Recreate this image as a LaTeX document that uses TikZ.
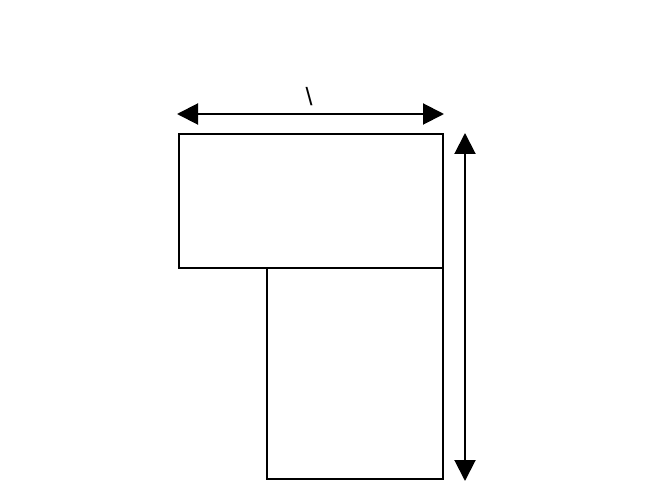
\documentclass[tikz,border=0pt]{standalone}
\usepackage{fontspec}
\setmainfont{Liberation Sans}
\usetikzlibrary{arrows.meta}
\begin{document}
\begin{tikzpicture}[x=1pt,y=-1pt,
  box/.style={draw=black,line width=2pt},
  dimarrow/.style={line width=2pt,{Triangle[length=21pt,width=21pt]}-{Triangle[length=21pt,width=21pt]}}]
\useasboundingbox (0,0) rectangle (646,500);
\draw[box] (179,134) rectangle (443,268);
\draw[box] (267,268) rectangle (443,479);
\coordinate (hl) at (177,114);
\coordinate (hr) at (444,114);
\coordinate (vt) at (465,133);
\coordinate (vb) at (465,481);
\draw[dimarrow] (hl) -- (hr);
\draw[dimarrow] (vt) -- (vb);
\node[font=\fontsize{25}{25}\selectfont,inner sep=0pt] (lbl) at (309,97) {\textbackslash};
\end{tikzpicture}
\end{document}
